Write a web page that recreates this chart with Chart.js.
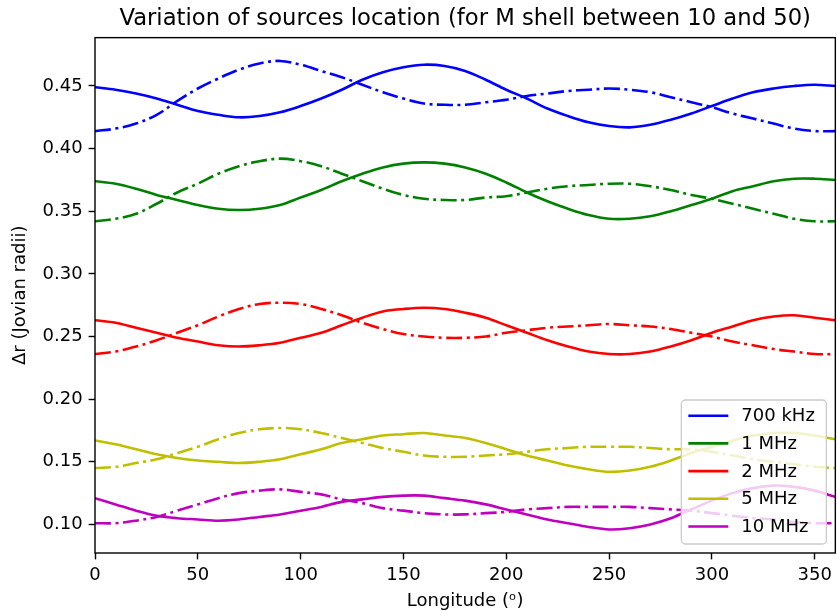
<!DOCTYPE html>
<html>
<head>
<meta charset="utf-8">
<script src="https://cdn.jsdelivr.net/npm/chart.js@4.4.1/dist/chart.umd.min.js"></script>
<style>
  html, body { margin: 0; padding: 0; background: #fff; }
  #wrap { width: 837px; height: 614px; }
</style>
</head>
<body>
<div id="wrap"><canvas id="chart" width="837" height="614"></canvas></div>
<script>
// longitude samples (degrees)
const longitude = [0, 10, 20, 30, 40, 50, 60, 70, 80, 90, 100, 110, 120, 130, 140, 150, 160, 170, 180,
  190, 200, 210, 220, 230, 240, 250, 260, 270, 280, 290, 300, 310, 320, 330, 340, 350, 360]

const xTicks = [0, 50, 100, 150, 200, 250, 300, 350]
const yTicks = [0.10, 0.15, 0.20, 0.25, 0.30, 0.35, 0.40, 0.45]

const freqLabels = ['700 kHz', '1 MHz', '2 MHz', '5 MHz', '10 MHz']
const freqColors = ['#0000ff', '#008000', '#ff0000', '#bfbf00', '#bf00bf']

// solid lines
const solid700k = [0.449, 0.447, 0.444, 0.440, 0.435, 0.430, 0.427, 0.425, 0.426, 0.429, 0.434, 0.440, 0.447,
  0.455, 0.461, 0.465, 0.467, 0.466, 0.462, 0.455, 0.447, 0.440, 0.432, 0.426, 0.421, 0.418, 0.417, 0.419,
  0.423, 0.428, 0.434, 0.440, 0.445, 0.448, 0.450, 0.451, 0.450]
const solid1M = [0.374, 0.372, 0.368, 0.363, 0.359, 0.355, 0.352, 0.351, 0.352, 0.355, 0.361, 0.367, 0.374,
  0.380, 0.385, 0.388, 0.389, 0.388, 0.385, 0.380, 0.373, 0.365, 0.358, 0.352, 0.347, 0.344, 0.344, 0.346,
  0.350, 0.355, 0.360, 0.366, 0.370, 0.374, 0.376, 0.376, 0.375]
const solid2M = [0.263, 0.261, 0.257, 0.253, 0.249, 0.246, 0.243, 0.242, 0.243, 0.245, 0.249, 0.253, 0.259,
  0.265, 0.270, 0.272, 0.273, 0.272, 0.269, 0.265, 0.259, 0.253, 0.247, 0.242, 0.238, 0.236, 0.236, 0.238,
  0.242, 0.247, 0.253, 0.258, 0.263, 0.266, 0.267, 0.265, 0.263]
const solid5M = [0.167, 0.164, 0.160, 0.156, 0.153, 0.151, 0.150, 0.149, 0.150, 0.152, 0.156, 0.160, 0.165,
  0.168, 0.171, 0.172, 0.173, 0.171, 0.169, 0.165, 0.160, 0.155, 0.151, 0.147, 0.144, 0.142, 0.143, 0.146,
  0.151, 0.157, 0.162, 0.167, 0.171, 0.173, 0.173, 0.171, 0.168]
const solid10M = [0.121, 0.116, 0.111, 0.107, 0.105, 0.104, 0.103, 0.104, 0.106, 0.108, 0.111, 0.114, 0.118,
  0.120, 0.122, 0.123, 0.123, 0.121, 0.119, 0.116, 0.112, 0.108, 0.104, 0.101, 0.098, 0.096, 0.097, 0.100,
  0.105, 0.112, 0.119, 0.125, 0.129, 0.131, 0.130, 0.127, 0.122]

// dash-dot lines
const dashed700k = [0.414, 0.416, 0.420, 0.427, 0.438, 0.448, 0.456, 0.463, 0.468, 0.470, 0.467, 0.462, 0.457,
  0.451, 0.445, 0.440, 0.436, 0.435, 0.435, 0.437, 0.439, 0.442, 0.444, 0.446, 0.447, 0.448, 0.447, 0.445,
  0.441, 0.437, 0.433, 0.428, 0.424, 0.420, 0.416, 0.414, 0.414]
const dashed1M = [0.342, 0.344, 0.348, 0.356, 0.365, 0.372, 0.380, 0.386, 0.390, 0.392, 0.390, 0.386, 0.380,
  0.374, 0.368, 0.363, 0.360, 0.359, 0.359, 0.361, 0.362, 0.365, 0.368, 0.370, 0.371, 0.372, 0.372, 0.370,
  0.367, 0.363, 0.360, 0.356, 0.352, 0.348, 0.344, 0.342, 0.342]
const dashed2M = [0.236, 0.238, 0.242, 0.247, 0.253, 0.259, 0.266, 0.272, 0.276, 0.277, 0.276, 0.272, 0.267,
  0.261, 0.256, 0.252, 0.250, 0.249, 0.249, 0.250, 0.253, 0.255, 0.257, 0.258, 0.259, 0.260, 0.259, 0.258,
  0.256, 0.253, 0.250, 0.246, 0.243, 0.240, 0.238, 0.236, 0.236]
const dashed5M = [0.145, 0.146, 0.149, 0.152, 0.157, 0.162, 0.168, 0.173, 0.176, 0.177, 0.176, 0.173, 0.169,
  0.165, 0.161, 0.158, 0.155, 0.154, 0.154, 0.155, 0.156, 0.158, 0.160, 0.161, 0.162, 0.162, 0.162, 0.161,
  0.160, 0.160, 0.158, 0.155, 0.152, 0.150, 0.148, 0.146, 0.145]
const dashed10M = [0.101, 0.101, 0.103, 0.106, 0.111, 0.116, 0.121, 0.125, 0.127, 0.128, 0.126, 0.124, 0.120,
  0.117, 0.113, 0.111, 0.109, 0.108, 0.108, 0.109, 0.110, 0.112, 0.113, 0.114, 0.114, 0.114, 0.114, 0.113,
  0.112, 0.111, 0.109, 0.107, 0.105, 0.104, 0.102, 0.101, 0.101]

const solidSeries = [solid700k, solid1M, solid2M, solid5M, solid10M]
const dashedSeries = [dashed700k, dashed1M, dashed2M, dashed5M, dashed10M]

const toPoints = (arr) => longitude.map((x, i) => ({ x: x, y: arr[i] }))

const datasets = []
freqLabels.forEach((label, i) => {
  datasets.push({
    label: label,
    inLegend: true,
    data: toPoints(solidSeries[i]),
    borderColor: freqColors[i],
    borderWidth: 2.6,
    tension: 0.35,
    pointRadius: 0,
    fill: false
  })
  datasets.push({
    label: label + ' (dash)',
    inLegend: false,
    data: toPoints(dashedSeries[i]),
    borderColor: freqColors[i],
    borderWidth: 2.6,
    borderDash: [16, 4.5, 3, 4.5],
    tension: 0.35,
    pointRadius: 0,
    fill: false
  })
})

// box around the plot area, like matplotlib spines
const frame = {
  id: 'frame',
  afterDatasetsDraw(chart) {
    const { ctx, chartArea: a } = chart
    ctx.save()
    ctx.strokeStyle = '#000'
    ctx.lineWidth = 1.4
    ctx.strokeRect(a.left, a.top, a.right - a.left, a.bottom - a.top)
    ctx.restore()
  }
}

// legend box in the lower right corner of the plot
const legendBox = {
  id: 'legendBox',
  afterDraw(chart) {
    const { ctx, chartArea: a } = chart
    const items = chart.data.datasets.filter(d => d.inLegend)
    const w = 145, h = 144
    const x = a.right - 9 - w
    const y = a.bottom - 9 - h
    ctx.save()
    ctx.beginPath()
    if (ctx.roundRect) ctx.roundRect(x, y, w, h, 4)
    else ctx.rect(x, y, w, h)
    ctx.fillStyle = 'rgba(255,255,255,0.8)'
    ctx.fill()
    ctx.strokeStyle = '#cccccc'
    ctx.lineWidth = 1.3
    ctx.stroke()
    ctx.font = '18px "DejaVu Sans"'
    ctx.textBaseline = 'middle'
    ctx.textAlign = 'left'
    items.forEach((d, i) => {
      const cy = y + 15.7 + i * 27.7
      ctx.beginPath()
      ctx.moveTo(x + 7, cy)
      ctx.lineTo(x + 47, cy)
      ctx.strokeStyle = d.borderColor
      ctx.lineWidth = 2.6
      ctx.stroke()
      ctx.fillStyle = '#000'
      ctx.fillText(d.label, x + 60, cy + 1)
    })
    ctx.restore()
  }
}

Chart.defaults.font.family = '"DejaVu Sans", sans-serif'
Chart.defaults.color = '#000'

const ctx = document.getElementById('chart').getContext('2d')
new Chart(ctx, {
  type: 'line',
  data: { datasets: datasets },
  plugins: [frame, legendBox],
  options: {
    responsive: false,
    animation: false,
    devicePixelRatio: 1,
    layout: { padding: { left: 0, right: 1, top: 0, bottom: 0 } },
    plugins: {
      legend: { display: false },
      tooltip: { enabled: false },
      title: {
        display: true,
        fullSize: false,
        text: 'Variation of sources location (for M shell between 10 and 50)',
        color: '#000',
        font: { size: 22.7, weight: 'normal' },
        lineHeight: 1.15,
        padding: { top: 5, bottom: 5.4 }
      }
    },
    scales: {
      x: {
        type: 'linear',
        min: 0,
        max: 360,
        afterBuildTicks: (scale) => { scale.ticks = xTicks.map(v => ({ value: v })) },
        afterFit: (scale) => { scale.height = 61 },
        grid: {
          display: true,
          drawOnChartArea: false,
          drawTicks: true,
          tickLength: 6.4,
          tickWidth: 1.4,
          tickColor: '#000'
        },
        border: { display: false },
        ticks: {
          color: '#000',
          font: { size: 18 },
          padding: 5,
          maxRotation: 0,
          autoSkip: false
        },
        title: {
          display: true,
          text: 'Longitude (ᵒ)',
          color: '#000',
          font: { size: 18 },
          padding: { top: 0, bottom: 2 }
        }
      },
      y: {
        min: 0.0772,
        max: 0.4886,
        afterBuildTicks: (scale) => { scale.ticks = yTicks.map(v => ({ value: v })) },
        afterFit: (scale) => { scale.width = 95 },
        grid: {
          display: true,
          drawOnChartArea: false,
          drawTicks: true,
          tickLength: 6.4,
          tickWidth: 1.4,
          tickColor: '#000'
        },
        border: { display: false },
        ticks: {
          color: '#000',
          font: { size: 18 },
          padding: 6,
          autoSkip: false,
          callback: (v) => v.toFixed(2)
        },
        title: {
          display: true,
          text: 'Δr (Jovian radii)',
          color: '#000',
          font: { size: 18 },
          padding: { top: 10, bottom: 0 }
        }
      }
    }
  }
})
</script>
</body>
</html>
